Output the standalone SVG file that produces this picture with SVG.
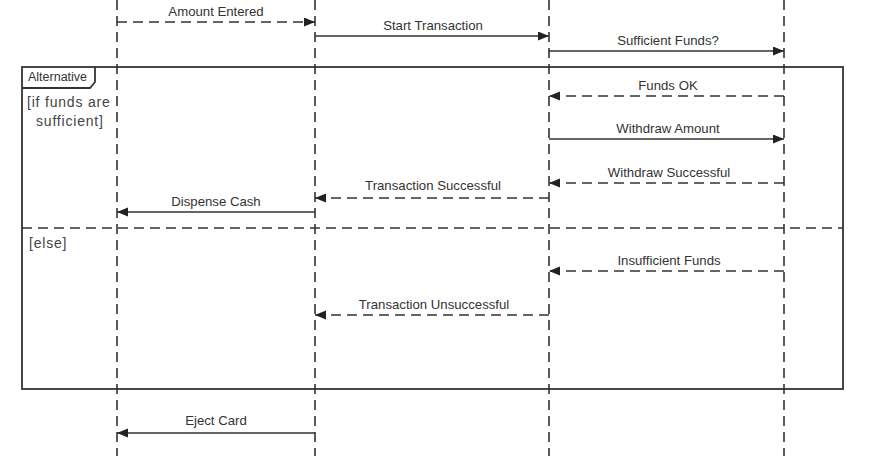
<svg xmlns="http://www.w3.org/2000/svg" width="881" height="456" viewBox="0 0 881 456">
<style>
.life{stroke:#333;stroke-width:1.6;stroke-dasharray:10 6;fill:none}
.msg{stroke:#333;stroke-width:1.6;fill:none;marker-end:url(#ah)}
.ret{stroke-dasharray:10 6}
.lbl{font-family:"Liberation Sans",Arial,sans-serif;font-size:13.2px;fill:#333;text-anchor:middle}
.grd{font-family:"Liberation Sans",Arial,sans-serif;font-size:14px;fill:#444;letter-spacing:0.8px}
.frame{stroke:#333;stroke-width:1.8;fill:none}
</style>
<defs>
<marker id="ah" markerUnits="userSpaceOnUse" markerWidth="12" markerHeight="10" refX="11" refY="4.5" orient="auto">
<path d="M0,0 L11,4.5 L0,9 Z" fill="#222"/>
</marker>
</defs>
<rect width="881" height="456" fill="#fff"/>
<g id="lifelines">
<line class="life" x1="117" y1="0" x2="117" y2="456"/>
<line class="life" x1="315" y1="0" x2="315" y2="456"/>
<line class="life" x1="549" y1="0" x2="549" y2="456"/>
<line class="life" x1="784" y1="0" x2="784" y2="456"/>
</g>
<g id="alt-frame">
<rect class="frame" x="22" y="67" width="821" height="322"/>
<path class="frame" d="M22,88 L90,88 L95,82 L95,67" stroke-width="1.3"/>
<text x="28" y="81" font-family="Liberation Sans,Arial,sans-serif" font-size="12.5" fill="#333">Alternative</text>
<text class="grd" x="27" y="107">[if funds are</text>
<text class="grd" x="36" y="126">sufficient]</text>
<line class="life" x1="22" y1="228" x2="843" y2="228"/>
<text class="grd" x="29" y="248">[else]</text>
</g>
<g id="connectors">
<path class="msg ret" d="M117,22 H315"/>
<text class="lbl" x="216" y="16">Amount Entered</text>
<path class="msg" d="M315,36 H549"/>
<text class="lbl" x="433" y="30">Start Transaction</text>
<path class="msg" d="M549,51 H784"/>
<text class="lbl" x="668" y="45">Sufficient Funds?</text>
<path class="msg ret" d="M784,96 H549"/>
<text class="lbl" x="668" y="90">Funds OK</text>
<path class="msg" d="M549,139 H784"/>
<text class="lbl" x="668" y="133">Withdraw Amount</text>
<path class="msg ret" d="M784,183 H549"/>
<text class="lbl" x="669" y="177">Withdraw Successful</text>
<path class="msg ret" d="M549,198 H315"/>
<text class="lbl" x="433" y="190">Transaction Successful</text>
<path class="msg" d="M315,212 H117"/>
<text class="lbl" x="216" y="206">Dispense Cash</text>
<path class="msg ret" d="M784,271 H549"/>
<text class="lbl" x="669" y="265">Insufficient Funds</text>
<path class="msg ret" d="M549,315 H315"/>
<text class="lbl" x="434" y="309">Transaction Unsuccessful</text>
<path class="msg" d="M315,433 H117"/>
<text class="lbl" x="216" y="425">Eject Card</text>
</g>
</svg>
